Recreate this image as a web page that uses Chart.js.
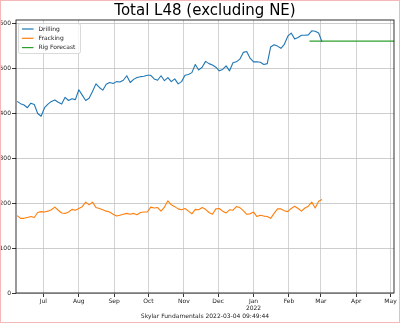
<!DOCTYPE html>
<html>
<head>
<meta charset="utf-8">
<script src="https://cdn.jsdelivr.net/npm/chart.js@4/dist/chart.umd.min.js"></script>
<style>
  html, body { margin: 0; padding: 0; background: #fff; }
  #wrap { width: 400px; height: 323px; position: relative; }
</style>
</head>
<body>
<div id="wrap"><canvas id="rigs" width="400" height="323"></canvas></div>
<script>
// rig counts, one reading every 3 days from firstDate
const firstDate = '2021-06-08';
const stepDays = 3;
const drilling = [426,421,418,412,422,419,399,393,412,420,426,429,424,420,435,428,432,430,452,440,428,433,448,465,457,451,464,468,466,470,
                  469,473,483,468,475,479,481,482,484,484,476,473,483,472,479,470,476,465,470,484,486,490,508,496,502,515,510,507,502,494,
                  497,505,494,512,514,520,535,537,522,514,514,513,508,510,547,552,549,544,553,571,578,565,568,573,573,574,583,582,578,558];
const fracking = [172,166,166,168,170,168,179,181,180,182,185,191,184,178,177,180,186,184,188,192,202,196,202,190,188,185,182,180,175,171,
                  173,175,177,175,177,174,179,180,180,191,189,190,182,191,205,196,192,187,185,188,182,176,186,185,190,186,179,175,187,188,
                  182,178,185,184,192,190,183,175,176,180,170,173,171,170,166,177,187,187,183,181,188,193,188,182,189,193,202,189,204,208];
const forecastDates = ['2022-02-19', '2022-05-04'];
const forecast = [560, 560];

const tickDates = ['2021-07-01','2021-08-01','2021-09-01','2021-10-01','2021-11-01','2021-12-01','2022-01-01','2022-02-01','2022-03-01','2022-04-01','2022-05-01'];
const tickLabels = ['Jul','Aug','Sep','Oct','Nov','Dec',['Jan','2022'],'Feb','Mar','Apr','May'];
const yTicks = [0, 100, 200, 300, 400, 500, 600];

const origin = Date.parse('2021-06-01');
const dayOf = d => (Date.parse(d) - origin) / 864e5;

const start = dayOf(firstDate);
const drillPts = drilling.map((v, i) => ({x: start + i * stepDays, y: v}));
const fracPts = fracking.map((v, i) => ({x: start + i * stepDays, y: v}));
const fcPts = forecast.map((v, i) => ({x: dayOf(forecastDates[i]), y: v}));
const tickDays = tickDates.map(dayOf);

const FONT = 'DejaVu Sans';

const decor = {
    id: 'decor',
    afterDraw(chart) {
        const c = chart.ctx, a = chart.chartArea;
        c.save();
        // frame around the axes
        c.strokeStyle = '#000';
        c.lineWidth = 0.8;
        c.strokeRect(a.left, a.top, a.right - a.left, a.bottom - a.top);
        // title and footer
        c.fillStyle = '#000';
        c.textAlign = 'center';
        c.textBaseline = 'middle';
        c.font = '15px "' + FONT + '"';
        c.fillText('Total L48 (excluding NE)', 205, 11);
        c.fillStyle = '#222';
        c.font = '6px "' + FONT + '"';
        c.fillText('Skylar Fundamentals 2022-03-04 09:49:44', 205, 316);
        // legend box
        const lx = a.left + 2.5, ly = a.top + 3.5;
        c.beginPath();
        c.roundRect(lx, ly, 62, 30, 2);
        c.fillStyle = 'rgba(255,255,255,0.8)';
        c.fill();
        c.strokeStyle = '#d0d0d0';
        c.lineWidth = 0.8;
        c.stroke();
        c.textAlign = 'left';
        chart.data.datasets.forEach((ds, i) => {
            const y = ly + 5.5 + i * 9.3;
            c.strokeStyle = ds.borderColor;
            c.lineWidth = 1.2;
            c.beginPath();
            c.moveTo(lx + 3.5, y);
            c.lineTo(lx + 15, y);
            c.stroke();
            c.fillStyle = '#222';
            c.fillText(ds.label, lx + 20, y);
        });
        // outer picture border
        c.strokeStyle = '#f4b8b8';
        c.lineWidth = 1;
        c.strokeRect(0.5, 0.5, chart.width - 1, chart.height - 1);
        c.restore();
    }
};

new Chart(document.getElementById('rigs'), {
    type: 'line',
    data: {
        datasets: [
            {label: 'Drilling', data: drillPts, borderColor: '#1f77b4'},
            {label: 'Fracking', data: fracPts, borderColor: '#ff7f0e'},
            {label: 'Rig Forecast', data: fcPts, borderColor: '#2ca02c'}
        ]
    },
    options: {
        responsive: false,
        animation: false,
        layout: {padding: {left: 0, right: 6, top: 20, bottom: 0}},
        elements: {
            point: {radius: 0},
            line: {borderWidth: 1.1, tension: 0, borderJoinStyle: 'round'}
        },
        plugins: {
            legend: {display: false},
            tooltip: {enabled: false}
        },
        scales: {
            x: {
                type: 'linear',
                min: dayOf('2021-06-07'),
                max: dayOf('2022-05-04'),
                afterBuildTicks: s => { s.ticks = tickDays.map(v => ({value: v})); },
                afterFit: s => { s.height = 30; },
                grid: {color: '#c8c8c8', lineWidth: 0.8, tickLength: 4, tickColor: '#000'},
                border: {display: false},
                ticks: {
                    autoSkip: false, maxRotation: 0, padding: 1,
                    color: '#222', font: {family: FONT, size: 6},
                    callback: v => tickLabels[tickDays.indexOf(v)]
                }
            },
            y: {
                min: 0,
                max: 607,
                afterBuildTicks: s => { s.ticks = yTicks.map(v => ({value: v})); },
                afterFit: s => { s.width = 16; },
                grid: {color: '#c0c0c0', lineWidth: 0.8, tickLength: 4, tickColor: '#000'},
                border: {display: false},
                ticks: {padding: 1, color: '#222', font: {family: FONT, size: 6}}
            }
        }
    },
    plugins: [decor]
});
</script>
</body>
</html>
